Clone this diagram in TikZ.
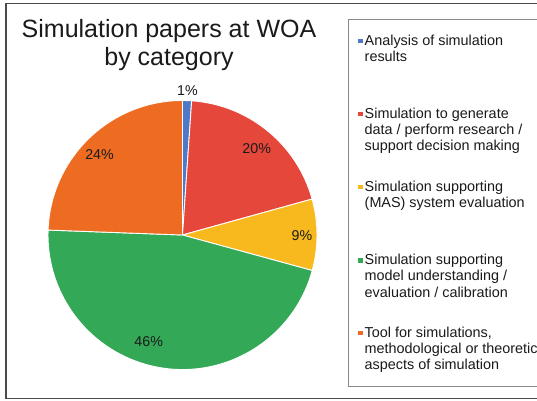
\documentclass[tikz,border=0pt]{standalone}
\usepackage{fontspec}
\setmainfont{Liberation Sans}
\definecolor{sliceblue}{HTML}{4F78C8}
\definecolor{slicered}{HTML}{E5473A}
\definecolor{sliceyellow}{HTML}{F7B91E}
\definecolor{slicegreen}{HTML}{33A857}
\definecolor{sliceorange}{HTML}{EE6C22}
\definecolor{framegray}{HTML}{4A4A4A}
\definecolor{boxgray}{HTML}{8A8A8A}
\definecolor{inkblack}{HTML}{1A1A1A}
\begin{document}
\begin{tikzpicture}[x=1pt,y=1pt,
  slice/.style={draw=white, line width=0.9pt, line join=round},
  pct/.style={font=\fontsize{14.2}{16}\selectfont, text=inkblack, inner sep=0pt},
  titletext/.style={font=\fontsize{25}{28.4}\selectfont, text=inkblack, align=center, anchor=base, inner sep=0pt},
  legtext/.style={font=\fontsize{14.4}{16.2}\selectfont, text=inkblack, align=left, anchor=base west, inner sep=0pt},
  legmark/.style={minimum size=4.5pt, inner sep=0pt, draw=none}]
\clip (0,0) rectangle (537,400);
\fill[white] (0,0) rectangle (537,400);

% outer chart frame and legend frame
\draw[framegray, line width=1.2pt] (6,396.6) rectangle (600,1.6);
\draw[boxgray, line width=0.9pt] (348.3,380.7) rectangle (600,13.3);

% title (multi-line nodes sit on the baseline of their last line)
\node[titletext] (title) at (169,334.3) {Simulation papers at WOA\\by category};

% pie
\def\R{134.5}
\coordinate (pc) at (182.5,165);
\filldraw[slice, fill=sliceblue]   (pc) -- ++(90:\R)    arc[start angle=90,    end angle=86.1,   radius=\R] -- cycle;
\filldraw[slice, fill=slicered]    (pc) -- ++(86.1:\R)  arc[start angle=86.1,  end angle=15.5,   radius=\R] -- cycle;
\filldraw[slice, fill=sliceyellow] (pc) -- ++(15.5:\R)  arc[start angle=15.5,  end angle=-15.3,  radius=\R] -- cycle;
\filldraw[slice, fill=slicegreen]  (pc) -- ++(-15.3:\R) arc[start angle=-15.3, end angle=-182.1, radius=\R] -- cycle;
\filldraw[slice, fill=sliceorange] (pc) -- ++(-182.1:\R) arc[start angle=-182.1, end angle=-270, radius=\R] -- cycle;

% percentage labels
\node[pct] (p1)  at (187.5,309)   {1\%};
\node[pct] (p20) at (256.7,251.7) {20\%};
\node[pct] (p9)  at (302,164.3)   {9\%};
\node[pct] (p46) at (148.7,58.3)  {46\%};
\node[pct] (p24) at (99.5,245)    {24\%};

% legend: markers beside the first line, text placed by its last baseline
\node[legmark, fill=sliceblue]   (m1) at (360.3,359.2) {};
\node[legtext] (l1) at (364.5,338.7) {Analysis of simulation\\results};
\node[legmark, fill=slicered]    (m2) at (360.3,286.2) {};
\node[legtext] (l2) at (364.5,249.3) {Simulation to generate\\data / perform research /\\support decision making};
\node[legmark, fill=sliceyellow] (m3) at (360.3,212.8) {};
\node[legtext] (l3) at (364.5,192.4) {Simulation supporting\\(MAS) system evaluation};
\node[legmark, fill=slicegreen]  (m4) at (360.3,139.5) {};
\node[legtext] (l4) at (364.5,103) {Simulation supporting\\model understanding /\\evaluation / calibration};
\node[legmark, fill=sliceorange] (m5) at (360.3,67.2) {};
\node[legtext] (l5) at (364.5,30.2) {Tool for simulations,\\methodological or theoretic\\aspects of simulation};
\end{tikzpicture}
\end{document}
